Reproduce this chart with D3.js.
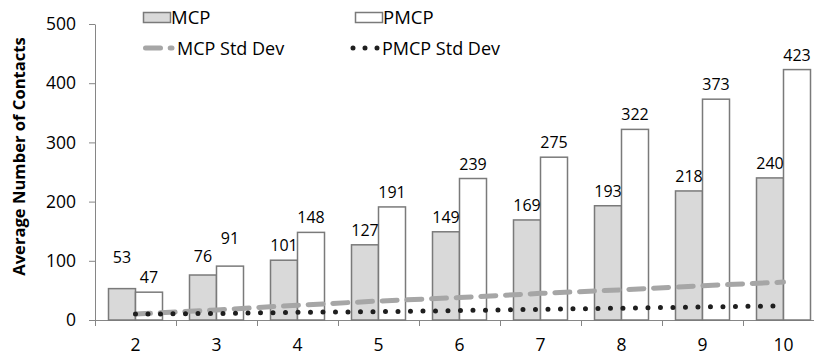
<!DOCTYPE html>
<html>
<head>
<meta charset="utf-8">
<script src="https://cdn.jsdelivr.net/npm/d3@7"></script>
<style>
  body { margin: 0; background: #fff; }
  svg { display: block; font-family: 'Open Sans', sans-serif; }
</style>
</head>
<body>
<svg width="814" height="358"></svg>
<script>
const categorias = ['2', '3', '4', '5', '6', '7', '8', '9', '10'];
const mcp = [53, 76, 101, 127, 149, 169, 193, 218, 240];
const pmcp = [47, 91, 148, 191, 239, 275, 322, 373, 423];
const mcpStd = [10, 17, 25, 32, 38, 45, 51, 58, 64];
const pmcpStd = [10, 11, 13, 14, 16, 18, 20, 22, 24];
const yTicks = [0, 100, 200, 300, 400, 500];
const series = ['MCP', 'PMCP'];

// labels the original had dragged upwards a bit
const labelShift = { 'MCP-2': 17, 'MCP-3': 4, 'PMCP-3': 13 };

const svg = d3.select('svg');

const marg = { cima: 24, esquerda: 95, baixo: 38 };
const largura = +svg.attr('width');
const altura = +svg.attr('height');
const innerAltura = altura - marg.cima - marg.baixo;

const xEscala = d3.scaleBand()
    .domain(categorias)
    .range([0, 81 * categorias.length]);

const xSerie = d3.scaleBand()
    .domain(series)
    .range([0, xEscala.bandwidth()])
    .paddingOuter(0.5);

const yEscala = d3.scaleLinear()
    .domain([0, 500])
    .range([innerAltura, 0]);

const g = svg.append('g')
    .attr('transform', `translate(${marg.esquerda},${marg.cima})`);

// y axis
const yAxis = g.append('g')
    .call(d3.axisLeft(yEscala).tickValues(yTicks).tickSizeInner(6).tickSizeOuter(0).tickPadding(13));
yAxis.selectAll('path, line').attr('stroke', '#868686');
yAxis.selectAll('text').attr('font-size', '17.5px').attr('fill', '#000').attr('font-family', 'Open Sans');

// x axis: line + ticks between categories
const limites = d3.scaleLinear().domain([0, categorias.length]).range(xEscala.range());
const xAxis = g.append('g')
    .attr('transform', `translate(0,${innerAltura})`)
    .call(d3.axisBottom(limites).tickValues(d3.range(categorias.length + 1)).tickFormat('').tickSizeInner(6).tickSizeOuter(0));
xAxis.selectAll('path, line').attr('stroke', '#868686');

const xLabels = g.append('g')
    .attr('transform', `translate(0,${innerAltura})`)
    .call(d3.axisBottom(xEscala).tickSize(0).tickPadding(19));
xLabels.select('.domain').remove();
xLabels.selectAll('text').attr('font-size', '17.5px').attr('fill', '#000').attr('font-family', 'Open Sans');

// bars
const linhas = categorias.map((c, i) => ({ cat: c, MCP: mcp[i], PMCP: pmcp[i] }));
const estilo = { MCP: '#d9d9d9', PMCP: '#ffffff' };

const grupos = g.selectAll('.grupo').data(linhas)
    .enter().append('g')
        .attr('class', 'grupo')
        .attr('transform', d => `translate(${xEscala(d.cat)},0)`);

grupos.selectAll('rect').data(d => series.map(s => ({ serie: s, valor: d[s], cat: d.cat })))
    .enter().append('rect')
        .attr('x', d => xSerie(d.serie))
        .attr('y', d => yEscala(d.valor))
        .attr('width', xSerie.bandwidth())
        .attr('height', d => innerAltura - yEscala(d.valor))
        .attr('fill', d => estilo[d.serie])
        .attr('stroke', '#7a7a7a')
        .attr('stroke-width', 1.5);

grupos.selectAll('text').data(d => series.map(s => ({ serie: s, valor: d[s], cat: d.cat })))
    .enter().append('text')
        .attr('x', d => xSerie(d.serie) + xSerie.bandwidth() / 2)
        .attr('y', d => yEscala(d.valor) - 9 - (labelShift[d.serie + '-' + d.cat] || 0))
        .attr('text-anchor', 'middle')
        .attr('font-size', '16px')
        .text(d => d.valor);

// std dev lines
const linha = d3.line()
    .x((d, i) => xEscala(categorias[i]) + xEscala.bandwidth() / 2)
    .y(d => yEscala(d));

g.append('path')
    .datum(mcpStd)
    .attr('d', linha)
    .attr('fill', 'none')
    .attr('stroke', '#a6a6a6')
    .attr('stroke-width', 5)
    .attr('stroke-linecap', 'round')
    .attr('stroke-dasharray', '15,9.7');

g.append('path')
    .datum(pmcpStd)
    .attr('d', linha)
    .attr('fill', 'none')
    .attr('stroke', '#1f1f1f')
    .attr('stroke-width', 5)
    .attr('stroke-linecap', 'round')
    .attr('stroke-dasharray', '0,12.5');

// y title
svg.append('text')
    .attr('transform', 'translate(25,156.5) rotate(-90)')
    .attr('text-anchor', 'middle')
    .attr('font-size', '16.6px')
    .attr('font-weight', 'bold')
    .text('Average Number of Contacts');

// legend
const leg = svg.append('g');
leg.append('rect').attr('x', 143.5).attr('y', 12.5).attr('width', 27).attr('height', 10)
    .attr('fill', estilo.MCP).attr('stroke', '#7a7a7a').attr('stroke-width', 1.5);
leg.append('text').attr('x', 171).attr('y', 23.5).attr('font-size', '18.5px').text('MCP');

leg.append('rect').attr('x', 355.5).attr('y', 12.5).attr('width', 27).attr('height', 10)
    .attr('fill', estilo.PMCP).attr('stroke', '#7a7a7a').attr('stroke-width', 1.5);
leg.append('text').attr('x', 383).attr('y', 23.5).attr('font-size', '18.5px').text('PMCP');

leg.append('line').attr('x1', 145.5).attr('x2', 172).attr('y1', 48).attr('y2', 48)
    .attr('stroke', '#a6a6a6').attr('stroke-width', 5).attr('stroke-linecap', 'round')
    .attr('stroke-dasharray', '15,9.7');
leg.append('text').attr('x', 177).attr('y', 54.5).attr('font-size', '18px').text('MCP Std Dev');

leg.append('line').attr('x1', 353).attr('x2', 378).attr('y1', 48).attr('y2', 48)
    .attr('stroke', '#1f1f1f').attr('stroke-width', 5).attr('stroke-linecap', 'round')
    .attr('stroke-dasharray', '0,12');
leg.append('text').attr('x', 382).attr('y', 54.5).attr('font-size', '18px').text('PMCP Std Dev');
</script>
</body>
</html>
